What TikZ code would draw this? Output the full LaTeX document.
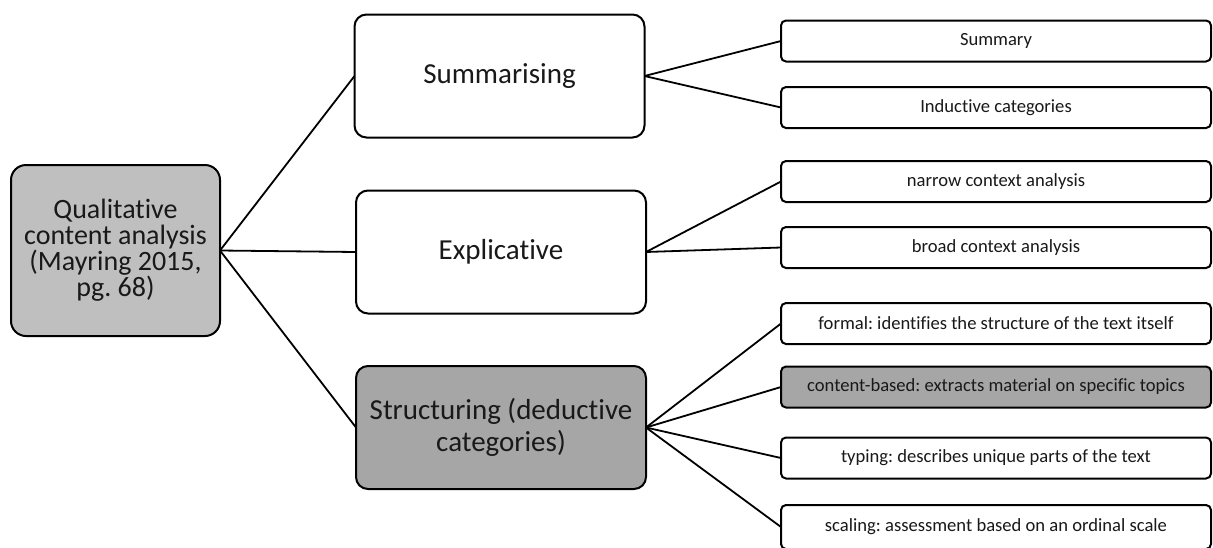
\documentclass[tikz,border=0pt]{standalone}
\usepackage{fontspec}
\setmainfont{Carlito}[Ligatures=NoCommon]
\frenchspacing
\definecolor{rootgray}{HTML}{BFBFBF}
\definecolor{darkgray}{HTML}{A6A6A6}
\tikzset{
  box/.style={draw=black, line width=2pt, inner sep=0pt, outer sep=0pt,
    align=center, text=black!90},
  rootbox/.style={box, fill=rootgray, rounded corners=15pt,
    minimum width=209pt, minimum height=171pt,
    font=\fontsize{28}{26}\selectfont},
  midbox/.style={box, fill=white, rounded corners=12pt,
    minimum width=290pt, minimum height=123pt,
    font=\fontsize{29}{32}\selectfont},
  leafbox/.style={box, fill=white, rounded corners=5pt,
    minimum width=430pt, minimum height=41pt,
    font=\fontsize{18.6}{21}\selectfont},
  shaded/.style={fill=darkgray},
  link/.style={draw=black, line width=1.8pt},
}
\begin{document}
\begin{tikzpicture}[x=1pt, y=-1pt]
\useasboundingbox (0,0) rectangle (1213,547);

% first level
\node[rootbox] (root) at (115.5,250.5)
  {Qualitative\\content analysis\\(Mayring 2015,\\pg. 68)};

% second level
\node[midbox] (sum) at (499.5,76) {Summarising};
\node[midbox] (expl) at (501,252) {Explicative};
\node[midbox, shaded] (struct) at (501,427.5) {Structuring (deductive\\categories)};

% third level
\node[leafbox] (summary)   at (996,41)    {Summary};
\node[leafbox] (inductive) at (996,107.5) {Inductive categories};
\node[leafbox] (narrow)    at (996,181.5) {narrow context analysis};
\node[leafbox] (broad)     at (996,247.5) {broad context analysis};
\node[leafbox] (formal)    at (996,323.5) {formal: identifies the structure of the text itself};
\node[leafbox, shaded] (content) at (996,387) {content-based: extracts material on specific topics};
\node[leafbox] (typing)    at (996,458)   {typing: describes unique parts of the text};
\node[leafbox, minimum height=44pt] (scaling) at (996,527)
  {scaling: assessment based on an ordinal scale};

% connectors
\foreach \m in {sum,expl,struct}
  \draw[link] (root.east) -- (\m.west);
\foreach \l in {summary,inductive}
  \draw[link] (sum.east) -- (\l.west);
\foreach \l in {narrow,broad}
  \draw[link] (expl.east) -- (\l.west);
\foreach \l in {formal,content,typing,scaling}
  \draw[link] (struct.east) -- (\l.west);
\end{tikzpicture}
\end{document}
